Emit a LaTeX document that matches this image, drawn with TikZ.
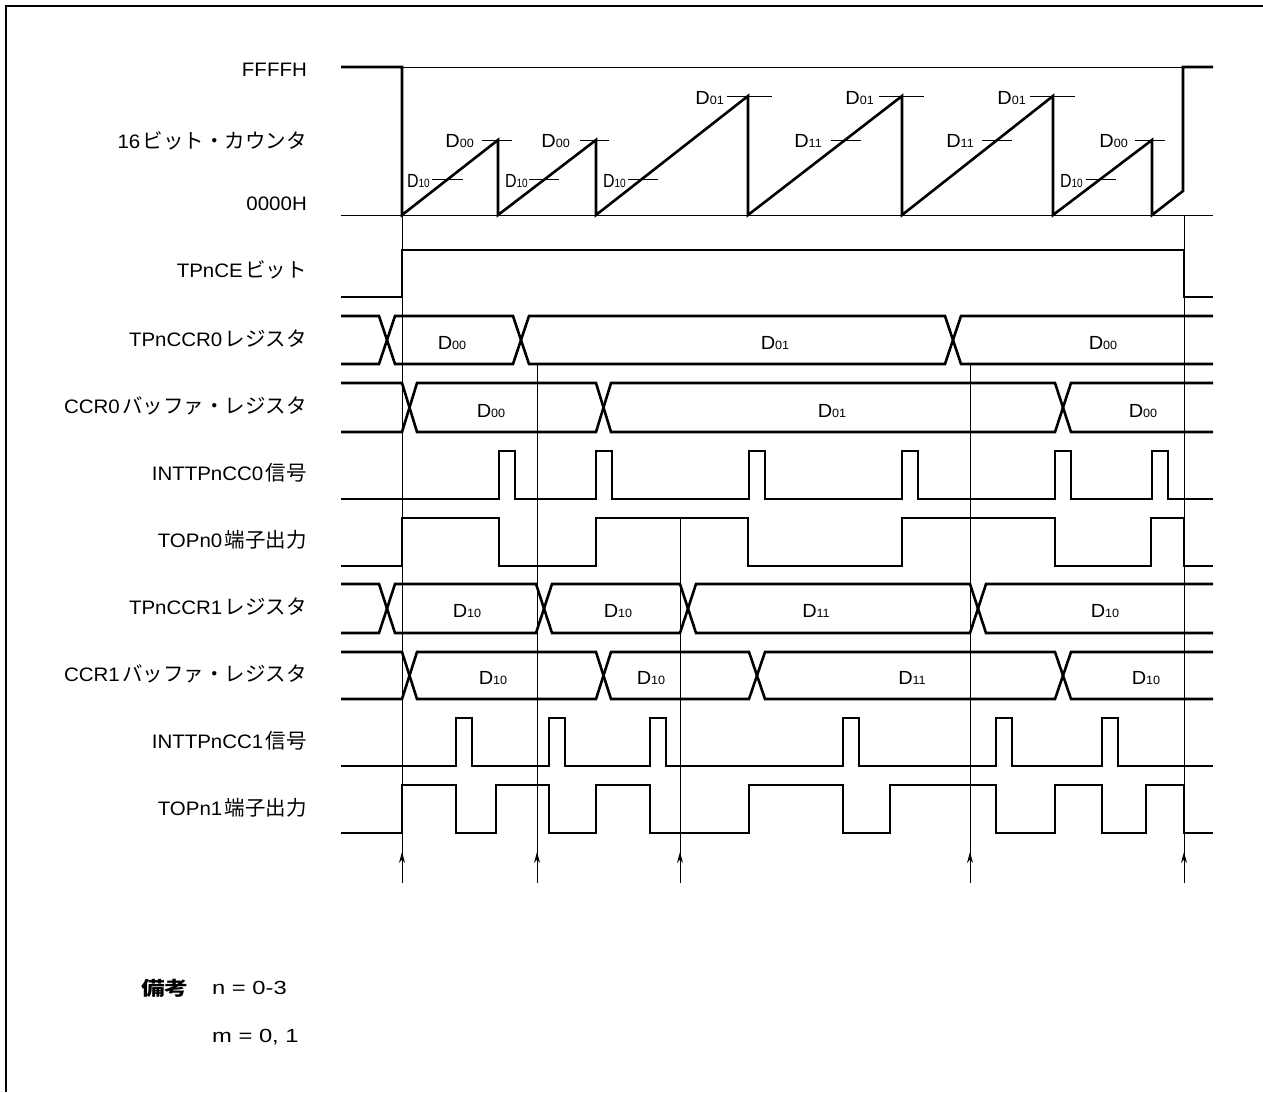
\documentclass[tikz,border=0pt]{standalone}
\usepackage{fontspec}
\usepackage{graphicx}
\setmainfont[FakeStretch=1.05]{Liberation Sans}
\newfontfamily\notefont[FakeStretch=1.25]{Liberation Sans}
\newfontfamily\cjk{Noto Sans CJK JP}
\newfontfamily\cjkwide[FakeStretch=1.25]{Noto Sans CJK JP}
\usetikzlibrary{arrows.meta}
\newcommand{\jp}[1]{\hspace{2.5pt}{\cjk\fontsize{20.5}{22}\selectfont #1}}
\newcommand{\Dc}[1]{\fontsize{19}{19}\selectfont D\fontsize{12}{12}\selectfont #1}
\newcommand{\Dn}[1]{\scalebox{0.8}[1]{\Dc{#1}}}
\tikzset{
  sig/.style={line width=2.6pt, line join=miter},
  guide/.style={line width=0.9pt},
  lbl/.style={anchor=base east, inner sep=0pt, font=\fontsize{19.5}{22}\selectfont},
  dlab/.style={anchor=base east, inner sep=0pt},
  blab/.style={anchor=base, inner sep=0pt},
  frame/.style={line width=2.4pt},
  tmark/.style={line width=0.9pt, -{Stealth[length=11pt,width=6pt]}}
}
\begin{document}
\begin{tikzpicture}[x=1pt,y=-1pt]
\useasboundingbox (0,0) rectangle (1263,1092);
% frame
\draw[frame] (6,1092) -- (6,6) -- (1263,6);

% labels
\node[lbl] (lFF) at (307,76) {FFFFH};
\node[lbl] (lcnt) at (307,148) {16\jp{ビット・カウンタ}};
\node[lbl] (l00) at (307,210) {0000H};
\node[lbl] (lce) at (307,277) {TPnCE\jp{ビット}};
\node[lbl] (lccr0) at (307,346) {TPnCCR0\jp{レジスタ}};
\node[lbl] (lbuf0) at (307,413) {CCR0\jp{バッファ・レジスタ}};
\node[lbl] (lint0) at (307,480) {INTTPnCC0\jp{信号}};
\node[lbl] (ltop0) at (307,547) {TOPn0\jp{端子出力}};
\node[lbl] (lccr1) at (307,614) {TPnCCR1\jp{レジスタ}};
\node[lbl] (lbuf1) at (307,681) {CCR1\jp{バッファ・レジスタ}};
\node[lbl] (lint1) at (307,748) {INTTPnCC1\jp{信号}};
\node[lbl] (ltop1) at (307,815) {TOPn1\jp{端子出力}};

% counter
\draw[guide] (402,67) -- (1183,67);
\draw[guide] (341,215) -- (1213,215);
\draw[sig] (341,67) -- (402,67) -- (402,215) -- (498,140) -- (498,215) -- (596,140) -- (596,215)
  -- (748,96) -- (748,215) -- (902,96) -- (902,215) -- (1053,96) -- (1053,215) -- (1152,140)
  -- (1152,215) -- (1183,191) -- (1183,67) -- (1213,67);
% level ticks
\draw[guide] (432,179) -- (463,179);  \draw[guide] (482,140) -- (512,140);
\draw[guide] (529,179) -- (559,179);  \draw[guide] (580,140) -- (609,140);
\draw[guide] (628,179) -- (658,179);  \draw[guide] (727,96) -- (772,96);
\draw[guide] (831,140) -- (861,140);  \draw[guide] (879,96) -- (924,96);
\draw[guide] (982,140) -- (1012,140); \draw[guide] (1030,96) -- (1075,96);
\draw[guide] (1086,179) -- (1116,179); \draw[guide] (1135,140) -- (1165,140);
\node[dlab] (c1) at (430,187) {\Dn{10}};
\node[dlab] (c2) at (474,147) {\Dc{00}};
\node[dlab] (c3) at (528,187) {\Dn{10}};
\node[dlab] (c4) at (570,147) {\Dc{00}};
\node[dlab] (c5) at (626,187) {\Dn{10}};
\node[dlab] (c6) at (724,104) {\Dc{01}};
\node[dlab] (c7) at (822,147) {\Dc{11}};
\node[dlab] (c8) at (874,104) {\Dc{01}};
\node[dlab] (c9) at (974,147) {\Dc{11}};
\node[dlab] (c10) at (1026,104) {\Dc{01}};
\node[dlab] (c11) at (1083,187) {\Dn{10}};
\node[dlab] (c12) at (1128,147) {\Dc{00}};

% TPnCE
\draw[sig] (341,297) -- (402,297) -- (402,250) -- (1184,250) -- (1184,297) -- (1213,297);

% TPnCCR0 register
\draw[sig] (341,316) -- (379,316) -- (395,364) -- (513,364) -- (529,316) -- (945,316) -- (961,364) -- (1213,364);
\draw[sig] (341,364) -- (379,364) -- (395,316) -- (513,316) -- (529,364) -- (945,364) -- (961,316) -- (1213,316);
\node[blab] (r0a) at (452,349) {\Dc{00}};
\node[blab] (r0b) at (775,349) {\Dc{01}};
\node[blab] (r0c) at (1103,349) {\Dc{00}};

% CCR0 buffer
\draw[sig] (341,383) -- (402,383) -- (417,432) -- (596,432) -- (611,383) -- (1055,383) -- (1071,432) -- (1213,432);
\draw[sig] (341,432) -- (402,432) -- (417,383) -- (596,383) -- (611,432) -- (1055,432) -- (1071,383) -- (1213,383);
\node[blab] (b0a) at (491,417) {\Dc{00}};
\node[blab] (b0b) at (832,417) {\Dc{01}};
\node[blab] (b0c) at (1143,417) {\Dc{00}};

% INTTPnCC0
\draw[sig] (341,499) -- (499,499) -- (499,451) -- (515,451) -- (515,499)
  -- (596,499) -- (596,451) -- (612,451) -- (612,499)
  -- (749,499) -- (749,451) -- (765,451) -- (765,499)
  -- (902,499) -- (902,451) -- (918,451) -- (918,499)
  -- (1055,499) -- (1055,451) -- (1071,451) -- (1071,499)
  -- (1152,499) -- (1152,451) -- (1168,451) -- (1168,499) -- (1213,499);

% TOPn0
\draw[sig] (341,566) -- (402,566) -- (402,518) -- (499,518) -- (499,566) -- (596,566) -- (596,518)
  -- (748,518) -- (748,566) -- (902,566) -- (902,518) -- (1055,518) -- (1055,566)
  -- (1151,566) -- (1151,518) -- (1184,518) -- (1184,566) -- (1213,566);

% TPnCCR1 register
\draw[sig] (341,584) -- (379,584) -- (395,633) -- (536,633) -- (552,584) -- (680,584) -- (696,633) -- (970,633) -- (986,584) -- (1213,584);
\draw[sig] (341,633) -- (379,633) -- (395,584) -- (536,584) -- (552,633) -- (680,633) -- (696,584) -- (970,584) -- (986,633) -- (1213,633);
\node[blab] (r1a) at (467,617) {\Dc{10}};
\node[blab] (r1b) at (618,617) {\Dc{10}};
\node[blab] (r1c) at (816,617) {\Dc{11}};
\node[blab] (r1d) at (1105,617) {\Dc{10}};

% CCR1 buffer
\draw[sig] (341,652) -- (402,652) -- (417,699) -- (596,699) -- (611,652) -- (749,652) -- (765,699) -- (1055,699) -- (1071,652) -- (1213,652);
\draw[sig] (341,699) -- (402,699) -- (417,652) -- (596,652) -- (611,699) -- (749,699) -- (765,652) -- (1055,652) -- (1071,699) -- (1213,699);
\node[blab] (b1a) at (493,684) {\Dc{10}};
\node[blab] (b1b) at (651,684) {\Dc{10}};
\node[blab] (b1c) at (912,684) {\Dc{11}};
\node[blab] (b1d) at (1146,684) {\Dc{10}};

% INTTPnCC1
\draw[sig] (341,766) -- (456,766) -- (456,718) -- (472,718) -- (472,766)
  -- (549,766) -- (549,718) -- (565,718) -- (565,766)
  -- (650,766) -- (650,718) -- (666,718) -- (666,766)
  -- (843,766) -- (843,718) -- (859,718) -- (859,766)
  -- (996,766) -- (996,718) -- (1012,718) -- (1012,766)
  -- (1102,766) -- (1102,718) -- (1118,718) -- (1118,766) -- (1213,766);

% TOPn1
\draw[sig] (341,833) -- (402,833) -- (402,785) -- (456,785) -- (456,833) -- (496,833) -- (496,785)
  -- (549,785) -- (549,833) -- (596,833) -- (596,785) -- (650,785) -- (650,833)
  -- (749,833) -- (749,785) -- (843,785) -- (843,833) -- (890,833) -- (890,785)
  -- (996,785) -- (996,833) -- (1055,833) -- (1055,785) -- (1102,785) -- (1102,833)
  -- (1146,833) -- (1146,785) -- (1184,785) -- (1184,833) -- (1213,833);

% timing markers
\coordinate (t1a) at (402,215);  \coordinate (t1b) at (402,883);
\coordinate (t2a) at (537,364);  \coordinate (t2b) at (537,883);
\coordinate (t3a) at (680,518);  \coordinate (t3b) at (680,883);
\coordinate (t4a) at (970,364);  \coordinate (t4b) at (970,883);
\coordinate (t5a) at (1184,215); \coordinate (t5b) at (1184,883);
\foreach \t in {t1,t2,t3,t4,t5}{
  \draw[guide] (\t a) -- (\t b);
  \draw[tmark] (\t b) -- ++(0,-31);
}

% note
\node[anchor=west, inner sep=0pt, font=\fontsize{19}{21}\selectfont\cjkwide\bfseries] (note) at (141,988) {備考};
\node[anchor=west, inner sep=0pt, font=\fontsize{19}{21}\selectfont\notefont] (n1) at (212,988) {n = 0-3};
\node[anchor=west, inner sep=0pt, font=\fontsize{19}{21}\selectfont\notefont] (n2) at (212,1037) {m = 0, 1};
\end{tikzpicture}
\end{document}
